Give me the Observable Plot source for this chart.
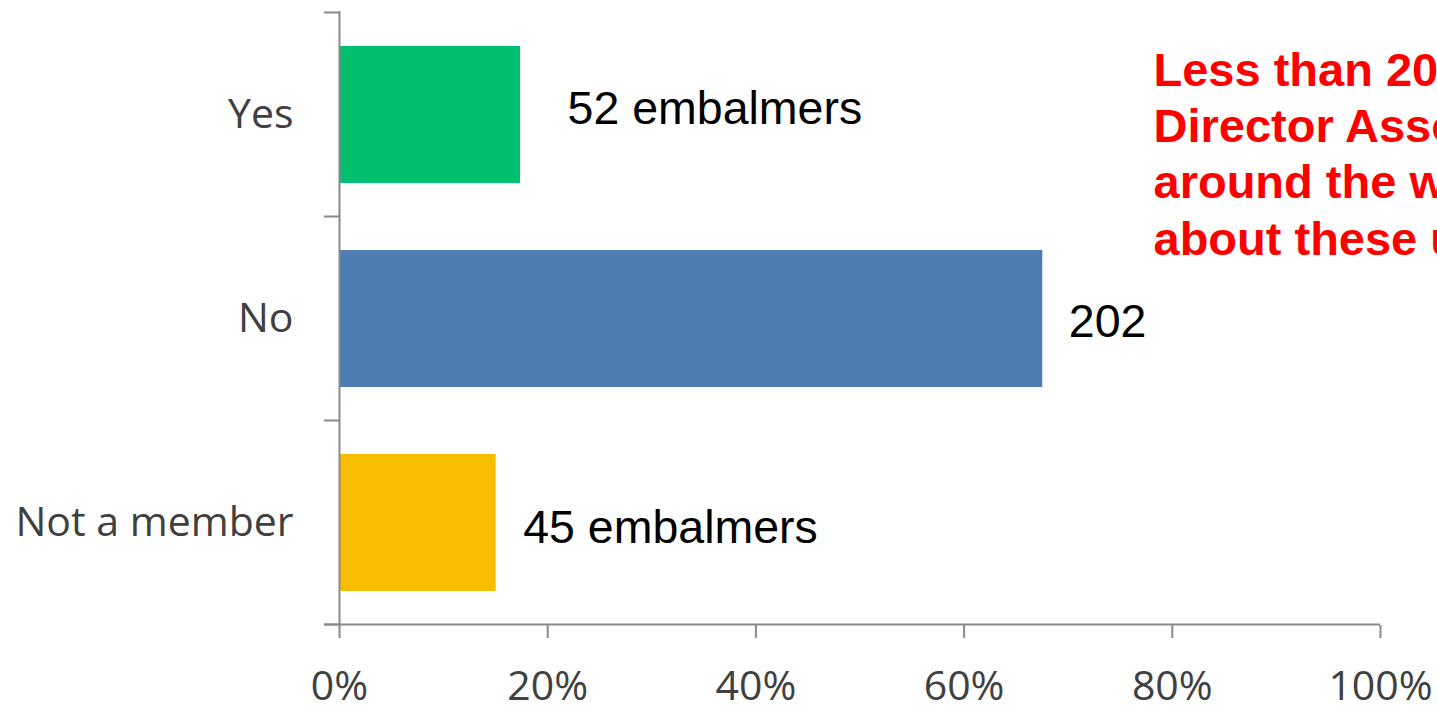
<!DOCTYPE html>
<html>
<head>
<meta charset="utf-8">
<script src="https://cdn.jsdelivr.net/npm/d3@7"></script>
<script src="https://cdn.jsdelivr.net/npm/@observablehq/plot@0.6"></script>
<style>
  html, body { margin: 0; padding: 0; background: white; overflow: hidden; }
</style>
</head>
<body>
<div id="chart"></div>
<script>
const categories = ["Yes", "No", "Not a member"];
const counts = [52, 202, 45];
const valueLabels = ["52 embalmers", "202", "45 embalmers"];
const xTicks = [0, 20, 40, 60, 80, 100];
const annotationLines = [
  "Less than 20% of Funeral",
  "Director Associations",
  "around the world",
  "about these u"
];
const colors = ["#00BF6F", "#4F7CB3", "#F7BE00"];

const total = d3.sum(counts);
const data = categories.map((c, i) => ({
  category: c,
  count: counts[i],
  pct: counts[i] / total * 100,
  label: valueLabels[i]
}));

const labelStyle = [
  {dx: 47, dy: -6},
  {dx: 26, dy: 3},
  {dx: 27, dy: 5}
];

const labelMarks = data.map((d, i) =>
  Plot.text([d], {
    x: "pct", y: "category", text: "label",
    textAnchor: "start", dx: labelStyle[i].dx, dy: labelStyle[i].dy,
    fontSize: 46.5, fontFamily: "'Liberation Sans', Arial, sans-serif", fill: "#000000"
  })
);

const chart = Plot.plot({
  width: 1437,
  height: 706,
  marginLeft: 339,
  marginRight: 57,
  marginTop: 11,
  marginBottom: 81,
  style: {fontFamily: "'Open Sans', sans-serif", fontSize: "41px", color: "#404040", background: "white"},
  x: {domain: [0, 100]},
  y: {domain: categories, paddingInner: 0.33, paddingOuter: 0.165},
  color: {domain: categories, range: colors},
  marks: [
    Plot.barX(data, {x: "pct", y: "category", fill: "category"}),
    Plot.ruleX([0], {stroke: "#898989", strokeWidth: 2}),
    Plot.axisX({ticks: xTicks, tickFormat: d => d + "%", tickSize: 13, tickPadding: 32,
                stroke: "#898989", strokeWidth: 2, fill: "#404040", label: null}),
    Plot.axisY({tickSize: 0, tickPadding: 46, fill: "#404040", label: null}),
    ...labelMarks,
    Plot.text([annotationLines.join("\n")], {
      text: d => d, frameAnchor: "top-left", textAnchor: "start", lineAnchor: "top",
      dx: 814, dy: 34, fontSize: 47, fontWeight: "bold", lineHeight: 1.2,
      fontFamily: "'Liberation Sans', Arial, sans-serif", fill: "#FF0000"
    })
  ]
});

document.getElementById("chart").appendChild(chart);

// category boundary ticks and the x-axis baseline, derived from the scales
const ys = chart.scale("y");
const xs = chart.scale("x");
const x0 = xs.apply(0);
const x1 = xs.apply(100);
const step = ys.apply(categories[1]) - ys.apply(categories[0]);
const bw = ys.bandwidth;
const gap = step - bw;
const bounds = categories.map(c => ys.apply(c) - gap / 2);
bounds.push(ys.apply(categories[categories.length - 1]) + bw + gap / 2);
const g = d3.select(chart).append("g").attr("stroke", "#898989").attr("stroke-width", 2);
bounds.forEach(b => {
  g.append("line").attr("x1", x0 - 15).attr("x2", x0).attr("y1", b).attr("y2", b);
});
const yb = bounds[bounds.length - 1];
g.append("line").attr("x1", x0 - 15).attr("x2", x1).attr("y1", yb).attr("y2", yb);
</script>
</body>
</html>
